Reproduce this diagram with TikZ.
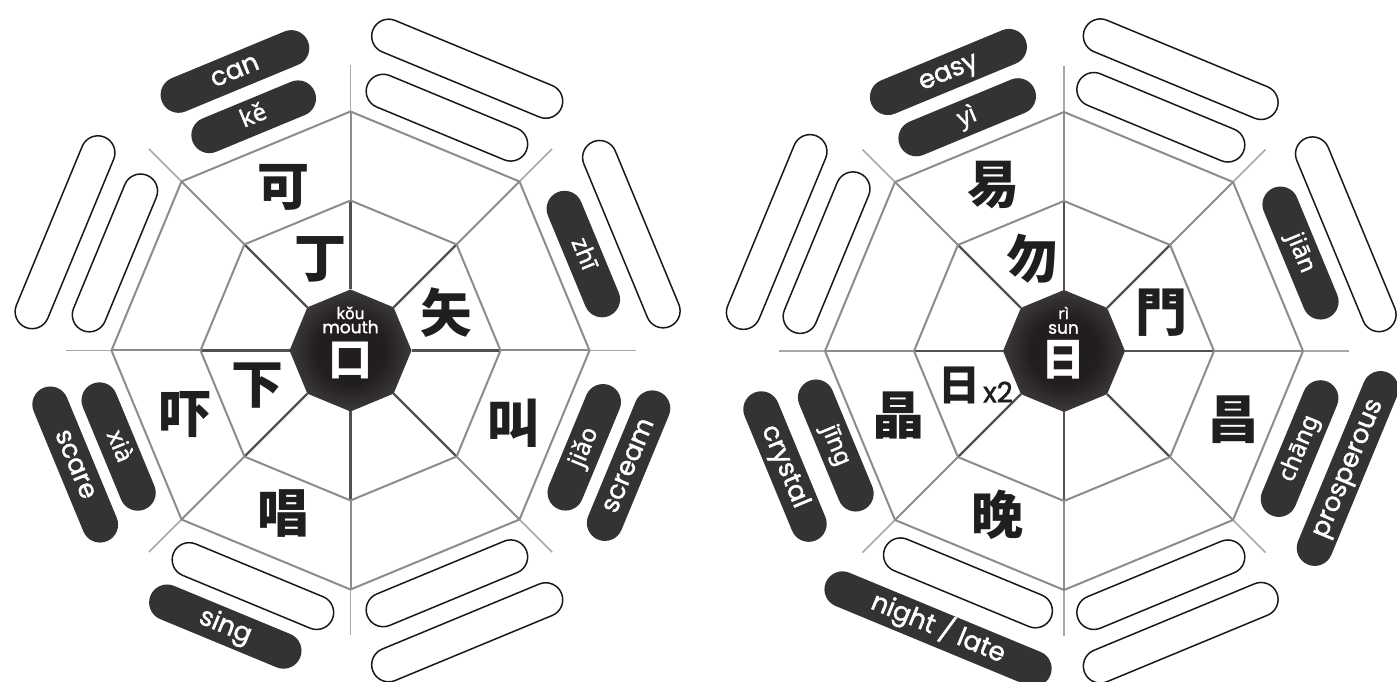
\documentclass[tikz,border=0pt]{standalone}
\usepackage{fontspec}
\setmainfont{Poppins}
\newfontfamily\pillfont{Poppins}[FakeBold=1.6]
\newfontfamily\pyfont{Noto Sans}[FakeBold=1.4]
\newfontfamily\cjk{Noto Sans CJK SC}
\usetikzlibrary{calc}
\definecolor{pilldark}{HTML}{333333}
\definecolor{edgegray}{HTML}{8C8C8C}
\definecolor{spokedark}{HTML}{505050}
\definecolor{spokelight}{HTML}{A8A8A8}
\definecolor{hubdark}{HTML}{221E1F}
\definecolor{hubedge}{HTML}{7A787A}
\pgfdeclareradialshading{hubshade}{\pgfpoint{0bp}{0bp}}{color(0bp)=(hubdark); color(14bp)=(hubdark); color(50bp)=(hubedge)}
\tikzset{
  darkpill/.style={rectangle, rounded corners=18pt, fill=pilldark, text=white, minimum height=36pt, inner sep=0pt,
    font=\pillfont\fontsize{26}{26}\selectfont, text height=19.5pt, text depth=5.5pt},
  pinyin/.style={font=\pyfont\fontsize{24}{24}\selectfont, text height=18pt, text depth=5pt},
  whitepill/.style={rectangle, rounded corners=17pt, draw=black!90, line width=1.5pt, fill=white, minimum height=34pt, inner sep=0pt},
  hanzi/.style={font=\cjk\bfseries\fontsize{52}{52}\selectfont, inner sep=0pt, text=black!88},
  hubhanzi/.style={font=\cjk\bfseries\fontsize{44}{44}\selectfont, inner sep=0pt, text=white},
  hublabel/.style={font=\pillfont\fontsize{17}{17}\selectfont, inner sep=0pt, text=white},
  hubpinyin/.style={font=\pyfont\fontsize{16}{16}\selectfont, inner sep=0pt, text=white},
}
\begin{document}
\begin{tikzpicture}[x=1pt,y=1pt]
\useasboundingbox (0,0) rectangle (1397,682);
\clip (0,0) rectangle (1397,682);
\fill[white] (0,0) rectangle (1397,682);
\coordinate (L) at (350.5,331.5);
\coordinate (R) at (1064,331);
\foreach \c in {L,R}{
  \foreach \a in {0,45,...,315}{
    \coordinate (\c-s\a) at ($(\c)+(\a:285)$);
    \coordinate (\c-o\a) at ($(\c)+(\a:239)$);
    \coordinate (\c-m\a) at ($(\c)+(\a:150)$);
    \coordinate (\c-i\a) at ($(\c)+(\a:61)$);
  }
  \foreach \a in {0,45,...,315}{
    \draw[spokelight, line width=1.7pt] (\c-o\a) -- (\c-s\a);
    \draw[edgegray, line width=2pt] (\c-m\a) -- (\c-o\a);
    \draw[spokedark, line width=2.2pt] (\c-i\a) -- (\c-m\a);
  }
  \draw[edgegray, line width=2pt, line join=round] (\c-o0) \foreach \a in {45,90,...,315}{ -- (\c-o\a)} -- cycle;
  \draw[edgegray, line width=2pt, line join=round] (\c-m0) \foreach \a in {45,90,...,315}{ -- (\c-m\a)} -- cycle;
  \shade[shading=hubshade] (\c-i0) \foreach \a in {45,90,...,315}{ -- (\c-i\a)} -- cycle;
}
% ---------- left hub ----------
\node[hubpinyin] (Lpy) at (350.5,369) {kǒu};
\node[hublabel] (Len) at (350.5,355) {mouth};
\node[hubhanzi] (Lhub) at (350.5,322) {口};
% left ring characters
\node[hanzi] (Lke1) at (283,495) {可};
\node[hanzi] (Lding) at (320,423) {丁};
\node[hanzi] (Lshi) at (446,369) {矢};
\node[hanzi] (Ljiao1) at (513,259) {叫};
\node[hanzi] (Lchang) at (283,168) {唱};
\node[hanzi] (Lxia1) at (257,296) {下};
\node[hanzi] (Lxia2) at (185,267) {吓};
% left pills
\node[darkpill, minimum width=158pt, rotate=22.5] (Lcan) at ($(L)+(112.5:302)$) {can};
\node[darkpill, pinyin, minimum width=132pt, rotate=22.5] (Lke) at ($(L)+(112.5:253)$) {kě};
\node[whitepill, minimum width=204pt, rotate=-22.5] (Lw1) at ($(L)+(67.5:305)$) {};
\node[whitepill, minimum width=172pt, rotate=-22.5] (Lw2) at ($(L)+(67.5:252)$) {};
\node[whitepill, minimum width=200pt, rotate=-67.5] (Lw3) at ($(L)+(22.5:304)$) {};
\node[darkpill, pinyin, minimum width=134pt, rotate=-67.5] (Lzhi) at ($(L)+(22.5:252)$) {zhī};
\node[darkpill, minimum width=160pt, rotate=67.5] (Lscream) at ($(L)+(-22.5:301)$) {scream};
\node[darkpill, pinyin, minimum width=134pt, rotate=67.5] (Ljiao) at ($(L)+(-22.5:253)$) {jiǎo};
\node[whitepill, minimum width=204pt, rotate=22.5] (Lw4) at ($(L)+(-67.5:305)$) {};
\node[whitepill, minimum width=172pt, rotate=22.5] (Lw5) at ($(L)+(-67.5:252)$) {};
\node[darkpill, minimum width=162pt, rotate=-22.5] (Lsing) at ($(L)+(-112.5:303)+(157.5:10)$) {sing};
\node[whitepill, minimum width=172pt, rotate=-22.5] (Lw6) at ($(L)+(-112.5:255)$) {};
\node[darkpill, minimum width=166pt, rotate=-67.5] (Lscare) at ($(L)+(-157.5:298)$) {scare};
\node[darkpill, pinyin, minimum width=136pt, rotate=-67.5] (Lxia) at ($(L)+(-157.5:251)$) {xià};
\node[whitepill, minimum width=206pt, rotate=67.5] (Lw7) at ($(L)+(157.5:309)$) {};
\node[whitepill, minimum width=168pt, rotate=67.5] (Lw8) at ($(L)+(157.5:255)$) {};
% ---------- right hub ----------
\node[hubpinyin] (Rpy) at (1063.5,369) {rì};
\node[hublabel] (Ren) at (1063.5,353) {sun};
\node[hubhanzi] (Rhub) at (1063.5,322) {日};
% right ring characters
\node[hanzi] (Ryi1) at (993,497) {易};
\node[hanzi] (Rwu) at (1032,423) {勿};
\node[hanzi] (Rmen) at (1161,369) {門};
\node[hanzi] (Rchang1) at (1233,262) {昌};
\node[hanzi] (Rwan) at (997.5,167) {晚};
\node[hanzi] (Rjing1) at (898,266) {晶};
\node[hanzi, font=\cjk\bfseries\fontsize{42}{42}\selectfont] (Rri) at (959,297) {日};
\node[inner sep=0pt, font=\pillfont\fontsize{28}{28}\selectfont, text=black!88] (Rx2) at (998,290) {x2};
% right pills
\node[darkpill, minimum width=167pt, rotate=22.5] (Reasy) at ($(R)+(112.5:302)$) {easy};
\node[darkpill, pinyin, minimum width=146pt, rotate=22.5] (Ryi) at ($(R)+(112.5:253)$) {yì};
\node[whitepill, minimum width=208pt, rotate=-22.5] (Rw1) at ($(R)+(67.5:305)$) {};
\node[whitepill, minimum width=179pt, rotate=-22.5] (Rw2) at ($(R)+(67.5:253)$) {};
\node[whitepill, minimum width=208pt, rotate=-67.5] (Rw3) at ($(R)+(22.5:305)$) {};
\node[darkpill, pinyin, minimum width=141pt, rotate=-67.5] (Rjian) at ($(R)+(22.5:256)$) {jiān};
\node[darkpill, minimum width=208pt, rotate=67.5] (Rpros) at ($(R)+(-22.5:307)$) {prosperous};
\node[darkpill, pinyin, minimum width=145pt, rotate=67.5] (Rchang) at ($(R)+(-22.5:255)$) {chāng};
\node[whitepill, minimum width=208pt, rotate=22.5] (Rw4) at ($(R)+(-67.5:305)$) {};
\node[whitepill, minimum width=179pt, rotate=22.5] (Rw5) at ($(R)+(-67.5:253)$) {};
\node[darkpill, minimum width=243pt, rotate=-22.5] (Rnight) at ($(R)+(-112.5:305)+(157.5:10)$) {night / late};
\node[whitepill, minimum width=180pt, rotate=-22.5] (Rw6) at ($(R)+(-112.5:251)$) {};
\node[darkpill, minimum width=160pt, rotate=-67.5] (Rcrystal) at ($(R)+(-157.5:302)$) {crystal};
\node[darkpill, pinyin, minimum width=140pt, rotate=-67.5] (Rjing) at ($(R)+(-157.5:247)$) {jīng};
\node[whitepill, minimum width=208pt, rotate=67.5] (Rw7) at ($(R)+(157.5:311)$) {};
\node[whitepill, minimum width=172pt, rotate=67.5] (Rw8) at ($(R)+(157.5:257)$) {};
\end{tikzpicture}
\end{document}
